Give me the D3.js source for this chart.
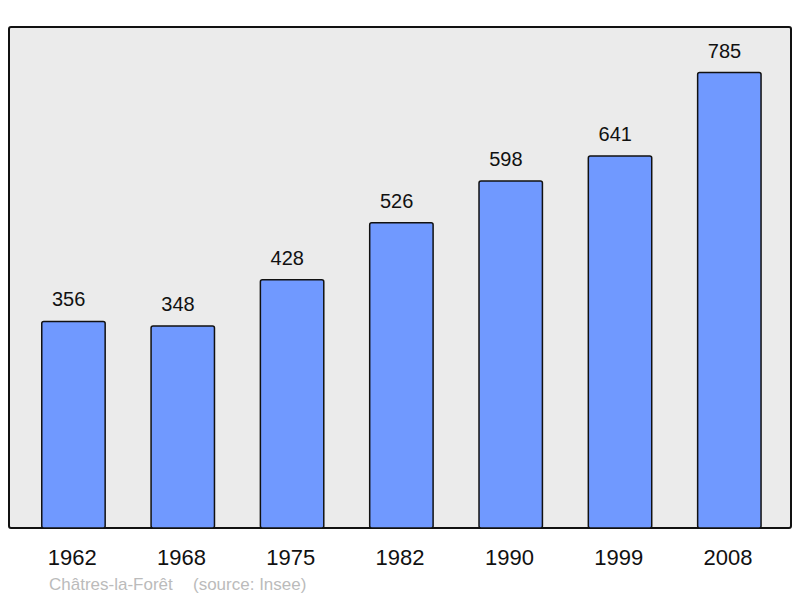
<!DOCTYPE html>
<html>
<head>
<meta charset="utf-8">
<script src="https://cdn.jsdelivr.net/npm/d3@7"></script>
<style>
  body { margin: 0; background: #fff; }
  text { font-family: "Liberation Sans", Arial, sans-serif; }
</style>
</head>
<body>
<div class="chart-container"></div>
<script>
var years = ["1962", "1968", "1975", "1982", "1990", "1999", "2008"];
var population = [356, 348, 428, 526, 598, 641, 785];
var commune = "Châtres-la-Forêt";
var source = "(source: Insee)";

var W = 800, H = 598;
var frame = {left: 9, top: 27, right: 791, bottom: 528};

var svg = d3.select(".chart-container").append("svg")
    .attr("width", W)
    .attr("height", H);

var x = d3.scaleBand()
    .domain(years)
    .range([18.8, 784])
    .paddingInner(0.42)
    .paddingOuter(0.21);

var y = d3.scaleLinear()
    .domain([0, d3.max(population) * 1.1])
    .range([frame.bottom, frame.top]);

// plot frame
svg.append("rect")
    .attr("x", frame.left)
    .attr("y", frame.top)
    .attr("width", frame.right - frame.left)
    .attr("height", frame.bottom - frame.top)
    .attr("rx", 2)
    .style("fill", "#ebebeb")
    .style("stroke", "#111")
    .style("stroke-width", 2);

var data = years.map(function(yr, i) { return {year: yr, val: population[i]}; });

svg.selectAll("rect.bar")
    .data(data)
    .enter().append("rect")
    .attr("class", "bar")
    .attr("x", function(d) { return x(d.year); })
    .attr("y", function(d) { return y(d.val); })
    .attr("width", x.bandwidth())
    .attr("height", function(d) { return frame.bottom - y(d.val); })
    .attr("rx", 2)
    .style("fill", "#7099ff")
    .style("stroke", "#111")
    .style("stroke-width", 1.5);

// value labels (sit a little left of the bar centre, as in the original)
svg.selectAll("text.val")
    .data(data)
    .enter().append("text")
    .attr("class", "val")
    .attr("x", function(d) { return x(d.year) + x.bandwidth() / 2 - 4.8; })
    .attr("y", function(d) { return y(d.val) - 15; })
    .attr("text-anchor", "middle")
    .style("font-size", "20px")
    .style("fill", "#111")
    .text(function(d) { return d.val; });

// x axis labels
svg.selectAll("text.year")
    .data(years)
    .enter().append("text")
    .attr("class", "year")
    .attr("x", function(d) { return x(d) + x.bandwidth() / 2 - 1.3; })
    .attr("y", 564.5)
    .attr("text-anchor", "middle")
    .style("font-size", "22px")
    .style("fill", "#111")
    .text(function(d) { return d; });

// footer
svg.append("text")
    .attr("x", 49)
    .attr("y", 590)
    .style("font-size", "17px")
    .style("fill", "#bbb")
    .text(commune);
svg.append("text")
    .attr("x", 193)
    .attr("y", 590)
    .style("font-size", "17px")
    .style("fill", "#bbb")
    .text(source);
</script>
</body>
</html>
